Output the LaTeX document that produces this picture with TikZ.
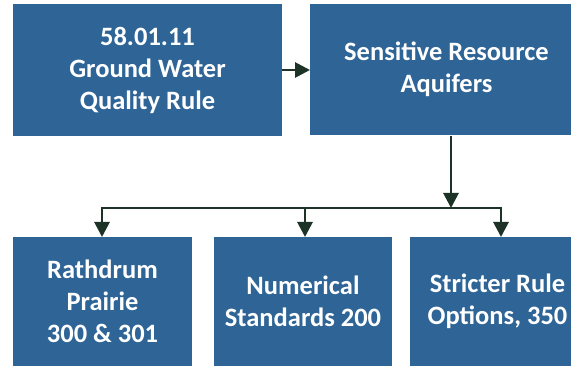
\documentclass[tikz,border=0pt]{standalone}
\usepackage{fontspec}
\setmainfont{Carlito}
\usetikzlibrary{arrows.meta}
\definecolor{boxblue}{HTML}{2E6496}
\definecolor{linecol}{HTML}{1E3328}
\begin{document}
\begin{tikzpicture}[x=1pt,y=-1pt,
  box/.style={fill=boxblue,draw=none,text=white,font=\bfseries\fontsize{26.5}{32}\selectfont,align=center,inner sep=0pt},
  conn/.style={draw=linecol,line width=2.8pt,-{Triangle[length=15pt,width=15pt]}},
  plain/.style={draw=linecol,line width=2.8pt}]
\useasboundingbox (0,0) rectangle (571,366);
\path[box] (13,4) rectangle (282,136) node[box,pos=.5] (b1) {58.01.11\\Ground Water\\Quality Rule};
\path[box] (310,4) rectangle (571,135) node[box,pos=.5,xshift=6pt] (b2) {Sensitive Resource\\Aquifers};
\path[box] (13,237) rectangle (192,366) node[box,pos=.5] (b3) {Rathdrum\\Prairie\\300 \& 301};
\path[box] (214,237) rectangle (392,366) node[box,pos=.5] (b4) {Numerical\\Standards 200};
\path[box] (410,237) rectangle (571,366) node[box,pos=.5,xshift=7pt] (b5) {Stricter Rule\\Options, 350};
\coordinate (r1) at (282,70);
\coordinate (l2) at (310,70);
\coordinate (v0) at (451,136);
\coordinate (j) at (451,208);
\coordinate (hL) at (102,208);
\coordinate (hM) at (305,208);
\coordinate (hR) at (501,208);
\coordinate (t3) at (102,237);
\coordinate (t4) at (305,237);
\coordinate (t5) at (501,237);
\draw[conn] (r1) -- (l2);
\draw[conn] (v0) -- (j);
\draw[plain] ([xshift=-1.4pt]hL) -- ([xshift=1.4pt]hR);
\draw[conn] (hL) -- (t3);
\draw[conn] (hM) -- (t4);
\draw[conn] (hR) -- (t5);
\end{tikzpicture}
\end{document}
